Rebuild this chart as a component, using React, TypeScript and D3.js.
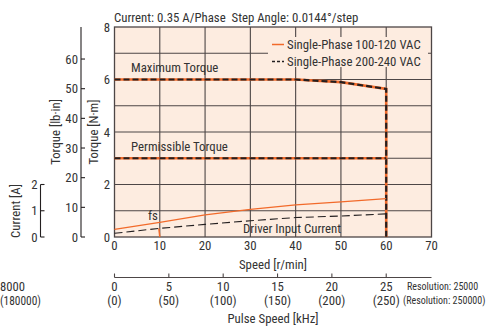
import React from "react";
import * as d3 from "d3";

const speedTicks = [0, 10, 20, 30, 40, 50, 60, 70];
const torqueNmTicks = [0, 2, 4, 6, 8];
const lbinTicks = [0, 10, 20, 30, 40, 50, 60];
const currentTicks = [0, 1, 2];
const pulseTicks = [0, 5, 10, 15, 20, 25];
const pulseHighLabels = ["(0)", "(50)", "(100)", "(150)", "(200)", "(250)"];

const maxTorqueSpeed = [0, 40, 50, 60, 60];
const maxTorque = [6, 6, 5.9, 5.64, 0];
const permTorqueSpeed = [0, 60];
const permTorque = [3, 3];
const currentSpeed = [0, 10, 20, 30, 40, 50, 60];
const current100 = [0.29, 0.56, 0.84, 1.05, 1.22, 1.34, 1.46];
const current200 = [0.14, 0.33, 0.48, 0.62, 0.74, 0.8, 0.88];
const fsSpeed = [9.8, 10];
const fsCurrent = [0.33, 0];

const ORANGE = "#f26a2a";
const DARK = "#231f20";
const BG = "#fdece0";
const GRID = "#4d4646";
const TEXT = "#333";
const FONT = "'Liberation Sans Narrow', 'Arial Narrow', 'Roboto Condensed', sans-serif";

export default function App() {
  const W = 502, H = 326;
  const x = d3.scaleLinear().domain([0, 70]).range([114.5, 431.5]);
  const y = d3.scaleLinear().domain([0, 8]).range([237, 27]);
  const yLb = d3.scaleLinear().domain([0, 8 * 8.85]).range([237, 27]);
  const yCur = d3.scaleLinear().domain([0, 8]).range([237, 27]);
  const xPulse = d3.scaleLinear().domain([0, 25]).range([x(0), x(60)]);

  const line = d3.line<[number, number]>().x((d) => x(d[0])).y((d) => y(d[1]));
  const zip = (a: number[], b: number[]) => a.map((v, i) => [v, b[i]] as [number, number]);

  const maxPath = line(zip(maxTorqueSpeed, maxTorque)) || "";
  const permPath = line(zip(permTorqueSpeed, permTorque)) || "";
  const c100Path = line(zip(currentSpeed, current100)) || "";
  const c200Path = line(zip(currentSpeed, current200)) || "";
  const fsPath = line(zip(fsSpeed, fsCurrent)) || "";

  const fs = 12.8;
  const lbAxisX = 81;
  const curAxisX = 40.5;
  const pulseY = 277.5;

  return (
    <svg width={W} height={H} style={{ position: "absolute", left: 0, top: 0 }} fontFamily={FONT}>
      {/* title */}
      <text x={114} y={22} fontSize={fs} fill={TEXT}>
        Current: 0.35 A/Phase{"\u00a0\u00a0"}Step Angle: 0.0144°/step
      </text>

      {/* plot background */}
      <rect x={x(0)} y={y(8)} width={x(70) - x(0)} height={y(0) - y(8)} fill={BG} />
      {/* grid */}
      {speedTicks.slice(1, -1).map((t) => (
        <line key={"gx" + t} x1={x(t)} x2={x(t)} y1={y(0)} y2={y(8)} stroke={GRID} strokeWidth={1.1} />
      ))}
      {d3.range(1, 8).map((t) => (
        <line key={"gy" + t} x1={x(0)} x2={x(70)} y1={y(t)} y2={y(t)} stroke={GRID} strokeWidth={1.1} />
      ))}
      <rect x={x(0)} y={y(8)} width={x(70) - x(0)} height={y(0) - y(8)} fill="none" stroke={GRID} strokeWidth={1.3} />

      {/* legend box */}
      <rect x={268} y={37} width={160} height={30} fill={BG} />
      <line x1={272} x2={284} y1={44.5} y2={44.5} stroke={ORANGE} strokeWidth={1.5} />
      <text x={287} y={49} fontSize={fs} fill={TEXT}>Single-Phase 100-120 VAC</text>
      <line x1={272} x2={284} y1={61.5} y2={61.5} stroke={DARK} strokeWidth={1.5} strokeDasharray="3,2" />
      <text x={287} y={66} fontSize={fs} fill={TEXT}>Single-Phase 200-240 VAC</text>

      {/* torque lines */}
      <path d={maxPath} fill="none" stroke={ORANGE} strokeWidth={2.6} />
      <path d={maxPath} fill="none" stroke={DARK} strokeWidth={2.2} strokeDasharray="6,3" />
      <path d={permPath} fill="none" stroke={ORANGE} strokeWidth={2.6} />
      <path d={permPath} fill="none" stroke={DARK} strokeWidth={2.2} strokeDasharray="6,3" />

      {/* current lines */}
      <path d={c100Path} fill="none" stroke={ORANGE} strokeWidth={1.3} />
      <path d={c200Path} fill="none" stroke={DARK} strokeWidth={1.1} strokeDasharray="8,4" />
      <path d={fsPath} fill="none" stroke={ORANGE} strokeWidth={1.5} />

      {/* annotations */}
      <text x={131} y={72} fontSize={fs} fill={TEXT}>Maximum Torque</text>
      <text x={131} y={151} fontSize={fs} fill={TEXT}>Permissible Torque</text>
      <text x={243} y={233} fontSize={fs} fill={TEXT}>Driver Input Current</text>
      <text x={148} y={220} fontSize={fs} fill={TEXT}>fs</text>

      {/* N·m tick labels */}
      {torqueNmTicks.map((t) => (
        <text key={"nm" + t} x={110} y={y(t) + 4.5} fontSize={fs} fill={TEXT} textAnchor="end">{t}</text>
      ))}
      <text transform={`translate(${98},${132}) rotate(-90)`} fontSize={fs} fill={TEXT} textAnchor="middle">Torque [N·m]</text>

      {/* lb-in axis */}
      <line x1={lbAxisX} x2={lbAxisX} y1={y(0)} y2={y(8)} stroke={DARK} strokeWidth={1.1} />
      {lbinTicks.map((t) => (
        <g key={"lb" + t}>
          <line x1={lbAxisX} x2={lbAxisX + 4} y1={yLb(t)} y2={yLb(t)} stroke={DARK} strokeWidth={1.1} />
          <text x={lbAxisX - 3} y={yLb(t) + 4.5} fontSize={fs} fill={TEXT} textAnchor="end">{t}</text>
        </g>
      ))}
      <text transform={`translate(${60},${132}) rotate(-90)`} fontSize={fs} fill={TEXT} textAnchor="middle">Torque [lb·in]</text>

      {/* current axis */}
      <line x1={curAxisX} x2={curAxisX} y1={yCur(0)} y2={yCur(2)} stroke={DARK} strokeWidth={1.1} />
      {currentTicks.map((t) => (
        <g key={"cu" + t}>
          <line x1={curAxisX} x2={curAxisX + 4} y1={yCur(t)} y2={yCur(t)} stroke={DARK} strokeWidth={1.1} />
          <text x={curAxisX - 3} y={yCur(t) + 4.5} fontSize={fs} fill={TEXT} textAnchor="end">{t}</text>
        </g>
      ))}
      <text transform={`translate(${20},${211}) rotate(-90)`} fontSize={fs} fill={TEXT} textAnchor="middle">Current [A]</text>

      {/* speed axis labels */}
      {speedTicks.map((t) => (
        <text key={"sx" + t} x={x(t)} y={250} fontSize={fs} fill={TEXT} textAnchor="middle">{t}</text>
      ))}
      <text x={273} y={269} fontSize={fs} fill={TEXT} textAnchor="middle">Speed [r/min]</text>

      {/* pulse speed axis */}
      <line x1={x(0)} x2={x(70)} y1={pulseY} y2={pulseY} stroke={GRID} strokeWidth={1.1} />
      {pulseTicks.map((t, i) => (
        <g key={"px" + t}>
          <line x1={xPulse(t)} x2={xPulse(t)} y1={pulseY} y2={pulseY - 4} stroke={GRID} strokeWidth={1.1} />
          <text x={xPulse(t)} y={291} fontSize={fs} fill={TEXT} textAnchor="middle">{t}</text>
          <text x={xPulse(t)} y={305} fontSize={fs} fill={TEXT} textAnchor="middle">{pulseHighLabels[i]}</text>
        </g>
      ))}
      <text x={407} y={290} fontSize={10} fill={TEXT}>Resolution: 25000</text>
      <text x={403} y={304} fontSize={10} fill={TEXT}>(Resolution: 250000)</text>
      <text x={273} y={323} fontSize={fs} fill={TEXT} textAnchor="middle">Pulse Speed [kHz]</text>

      {/* neighbour labels, visible part only */}
      <text x={0} y={291} fontSize={fs} fill={TEXT} textLength={25} lengthAdjust="spacingAndGlyphs">8000</text>
      <text x={0} y={305} fontSize={fs} fill={TEXT} textLength={41} lengthAdjust="spacingAndGlyphs">(180000)</text>
    </svg>
  );
}
